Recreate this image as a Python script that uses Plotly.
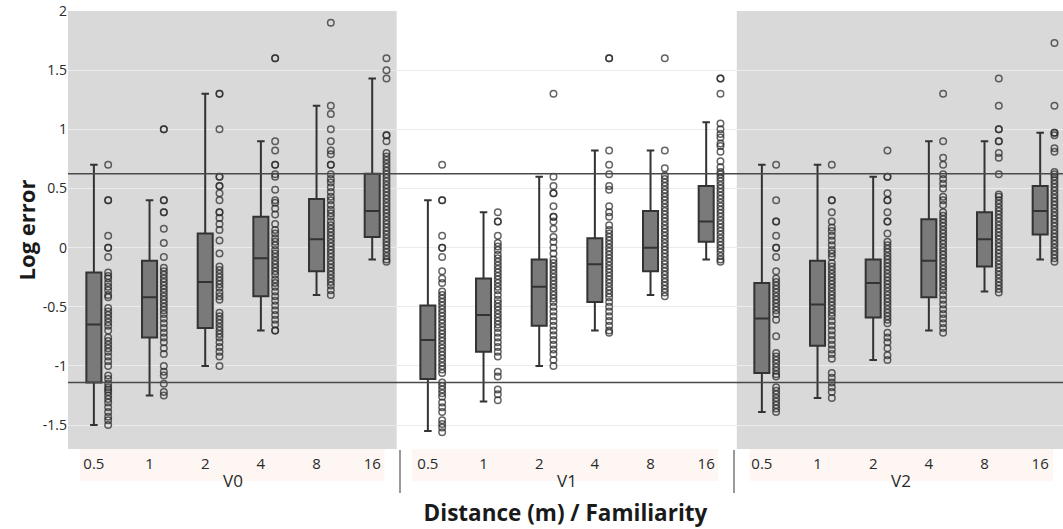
import plotly.graph_objects as go

# ---- categories / tick labels ----
familiarity = ["V0", "V1", "V2"]
distances = ["0.5", "1", "2", "4", "8", "16"]
y_tickvals = [-1.5, -1, -0.5, 0, 0.5, 1, 1.5, 2]
y_ticktext = ["-1.5", "-1", "-0.5", "0", "0.5", "1", "1.5", "2"]

# ---- box statistics per familiarity (order of distances) ----
q1_V0 = [-1.14, -0.76, -0.68, -0.41, -0.20, 0.09]
med_V0 = [-0.65, -0.42, -0.29, -0.09, 0.07, 0.31]
q3_V0 = [-0.21, -0.11, 0.12, 0.26, 0.41, 0.625]
lf_V0 = [-1.50, -1.25, -1.00, -0.70, -0.40, -0.10]
uf_V0 = [0.70, 0.40, 1.30, 0.90, 1.20, 1.43]

q1_V1 = [-1.11, -0.88, -0.66, -0.46, -0.20, 0.05]
med_V1 = [-0.78, -0.57, -0.33, -0.14, 0.00, 0.22]
q3_V1 = [-0.49, -0.26, -0.10, 0.08, 0.31, 0.52]
lf_V1 = [-1.55, -1.30, -1.00, -0.70, -0.40, -0.10]
uf_V1 = [0.40, 0.30, 0.60, 0.82, 0.82, 1.06]

q1_V2 = [-1.06, -0.83, -0.59, -0.42, -0.16, 0.11]
med_V2 = [-0.60, -0.48, -0.30, -0.11, 0.07, 0.31]
q3_V2 = [-0.30, -0.11, -0.10, 0.24, 0.30, 0.52]
lf_V2 = [-1.39, -1.27, -0.95, -0.70, -0.37, -0.10]
uf_V2 = [0.70, 0.70, 0.60, 0.90, 0.90, 0.97]

# ---- individual observations (log error) ----
pts_V0 = [
    [0.70, 0.40, 0.40, 0.10, 0.00, 0.00, -0.08, -0.21, -0.24, -0.26, -0.30, -0.33, -0.36, -0.40, -0.42,
     -0.51, -0.54, -0.57, -0.60, -0.63, -0.66, -0.70, -0.76, -0.79, -0.82, -0.85, -0.88, -0.92, -0.96,
     -1.00, -1.08, -1.11, -1.15, -1.18, -1.20, -1.22, -1.25, -1.28, -1.31, -1.35, -1.39, -1.43, -1.46, -1.50],
    [1.00, 1.00, 0.40, 0.40, 0.30, 0.30, 0.16, 0.04, -0.08, -0.17, -0.20, -0.23, -0.26, -0.29, -0.32,
     -0.35, -0.38, -0.41, -0.44, -0.47, -0.50, -0.53, -0.56, -0.60, -0.64, -0.68, -0.72, -0.76, -0.80,
     -0.85, -0.90, -1.00, -1.05, -1.08, -1.15, -1.22, -1.25],
    [1.30, 1.30, 1.00, 0.60, 0.60, 0.52, 0.52, 0.46, 0.40, 0.30, 0.30, 0.25, 0.20, 0.15, 0.06, -0.05,
     -0.16, -0.19, -0.22, -0.25, -0.28, -0.31, -0.34, -0.38, -0.41, -0.44, -0.55, -0.58, -0.61, -0.64,
     -0.67, -0.70, -0.73, -0.76, -0.80, -0.84, -0.88, -0.92, -1.00],
    [1.60, 1.60, 0.90, 0.82, 0.70, 0.70, 0.62, 0.60, 0.49, 0.40, 0.38, 0.33, 0.28, 0.20, 0.15, 0.12,
     0.08, 0.05, 0.02, -0.02, -0.05, -0.08, -0.11, -0.14, -0.17, -0.20, -0.23, -0.27, -0.30, -0.33,
     -0.37, -0.41, -0.45, -0.49, -0.53, -0.57, -0.61, -0.65, -0.70, -0.70],
    [1.90, 1.20, 1.13, 1.00, 0.90, 0.82, 0.79, 0.70, 0.70, 0.62, 0.58, 0.55, 0.51, 0.47, 0.43, 0.40,
     0.36, 0.32, 0.29, 0.26, 0.22, 0.19, 0.16, 0.13, 0.10, 0.07, 0.04, 0.01, -0.02, -0.05, -0.08,
     -0.11, -0.14, -0.17, -0.20, -0.23, -0.26, -0.29, -0.32, -0.36, -0.40],
    [1.60, 1.50, 1.43, 0.95, 0.95, 0.90, 0.80, 0.77, 0.74, 0.71, 0.68, 0.65, 0.62, 0.59, 0.56, 0.53,
     0.50, 0.47, 0.44, 0.41, 0.38, 0.35, 0.32, 0.29, 0.26, 0.23, 0.20, 0.17, 0.14, 0.11, 0.08, 0.05,
     0.02, -0.01, -0.04, -0.07, -0.10, -0.12],
]
pts_V1 = [
    [0.70, 0.40, 0.40, 0.10, 0.00, 0.00, -0.08, -0.20, -0.26, -0.30, -0.37, -0.40, -0.43, -0.46, -0.49,
     -0.52, -0.55, -0.58, -0.61, -0.64, -0.67, -0.70, -0.73, -0.76, -0.79, -0.82, -0.85, -0.88, -0.91,
     -0.94, -0.97, -1.00, -1.03, -1.06, -1.14, -1.17, -1.20, -1.23, -1.26, -1.31, -1.35, -1.39, -1.46,
     -1.49, -1.52, -1.56],
    [0.30, 0.22, 0.22, 0.10, 0.04, 0.01, -0.02, -0.06, -0.09, -0.12, -0.15, -0.18, -0.21, -0.24, -0.27,
     -0.30, -0.33, -0.36, -0.40, -0.44, -0.47, -0.50, -0.53, -0.56, -0.59, -0.62, -0.65, -0.68, -0.72,
     -0.76, -0.80, -0.84, -0.88, -0.92, -1.05, -1.09, -1.20, -1.24, -1.29],
    [1.30, 0.60, 0.52, 0.46, 0.46, 0.35, 0.26, 0.26, 0.22, 0.16, 0.09, 0.05, 0.00, -0.05, -0.10, -0.13,
     -0.16, -0.19, -0.22, -0.25, -0.28, -0.31, -0.34, -0.37, -0.40, -0.43, -0.46, -0.50, -0.54, -0.58,
     -0.62, -0.66, -0.70, -0.74, -0.78, -0.82, -0.86, -0.90, -0.95, -1.00],
    [1.60, 1.60, 0.82, 0.70, 0.62, 0.52, 0.49, 0.35, 0.30, 0.26, 0.19, 0.15, 0.12, 0.09, 0.06, 0.03,
     0.00, -0.03, -0.06, -0.09, -0.12, -0.15, -0.18, -0.21, -0.24, -0.27, -0.30, -0.33, -0.36, -0.39,
     -0.42, -0.46, -0.50, -0.54, -0.58, -0.62, -0.66, -0.70, -0.72],
    [1.60, 0.82, 0.67, 0.61, 0.58, 0.55, 0.52, 0.49, 0.46, 0.43, 0.40, 0.37, 0.34, 0.31, 0.28, 0.25,
     0.22, 0.19, 0.16, 0.13, 0.10, 0.07, 0.04, 0.01, -0.02, -0.05, -0.08, -0.11, -0.14, -0.17, -0.20,
     -0.23, -0.26, -0.29, -0.32, -0.35, -0.38, -0.41],
    [1.43, 1.43, 1.30, 1.05, 1.00, 0.96, 0.93, 0.88, 0.86, 0.81, 0.73, 0.68, 0.64, 0.62, 0.59, 0.56,
     0.53, 0.50, 0.47, 0.44, 0.41, 0.38, 0.35, 0.32, 0.29, 0.26, 0.23, 0.20, 0.17, 0.14, 0.11, 0.08,
     0.05, 0.02, -0.01, -0.04, -0.07, -0.10, -0.12],
]
pts_V2 = [
    [0.70, 0.40, 0.22, 0.22, 0.10, 0.00, 0.00, -0.08, -0.20, -0.26, -0.29, -0.32, -0.35, -0.38, -0.41,
     -0.44, -0.47, -0.50, -0.53, -0.56, -0.61, -0.75, -0.89, -0.92, -0.95, -0.98, -1.01, -1.04, -1.07,
     -1.09, -1.18, -1.21, -1.24, -1.27, -1.30, -1.33, -1.36, -1.39],
    [0.70, 0.40, 0.40, 0.30, 0.22, 0.17, 0.14, 0.10, 0.06, 0.02, -0.02, -0.05, -0.08, -0.13, -0.16,
     -0.19, -0.22, -0.25, -0.28, -0.31, -0.34, -0.37, -0.40, -0.43, -0.46, -0.49, -0.52, -0.55, -0.58,
     -0.62, -0.66, -0.70, -0.74, -0.78, -0.82, -0.86, -0.90, -0.94, -1.06, -1.10, -1.14, -1.18, -1.22,
     -1.27],
    [0.82, 0.60, 0.60, 0.46, 0.40, 0.40, 0.30, 0.22, 0.22, 0.12, 0.05, 0.02, -0.01, -0.04, -0.07, -0.10,
     -0.13, -0.16, -0.19, -0.22, -0.25, -0.28, -0.31, -0.34, -0.37, -0.40, -0.43, -0.46, -0.49, -0.52,
     -0.55, -0.58, -0.61, -0.64, -0.72, -0.76, -0.80, -0.85, -0.91, -0.95],
    [1.30, 0.90, 0.76, 0.70, 0.62, 0.58, 0.54, 0.50, 0.43, 0.40, 0.36, 0.30, 0.27, 0.24, 0.21, 0.18,
     0.15, 0.12, 0.09, 0.06, 0.03, 0.00, -0.03, -0.06, -0.09, -0.12, -0.15, -0.18, -0.21, -0.24, -0.27,
     -0.30, -0.33, -0.36, -0.40, -0.44, -0.48, -0.52, -0.56, -0.60, -0.64, -0.68, -0.72],
    [1.43, 1.20, 1.00, 1.00, 0.90, 0.90, 0.80, 0.76, 0.62, 0.45, 0.43, 0.40, 0.37, 0.34, 0.31, 0.28,
     0.25, 0.22, 0.19, 0.16, 0.13, 0.10, 0.07, 0.04, 0.01, -0.02, -0.05, -0.08, -0.11, -0.14, -0.17,
     -0.20, -0.23, -0.26, -0.29, -0.32, -0.35, -0.38],
    [1.73, 1.20, 0.97, 0.97, 0.95, 0.84, 0.81, 0.64, 0.62, 0.60, 0.57, 0.54, 0.51, 0.48, 0.45, 0.42,
     0.39, 0.36, 0.33, 0.30, 0.27, 0.24, 0.21, 0.18, 0.15, 0.12, 0.09, 0.06, 0.03, 0.00, -0.03, -0.06,
     -0.09, -0.12],
]

# reference lines (log error)
ref_upper = 0.625
ref_lower = -1.14

groups = [
    (familiarity[0], pts_V0, q1_V0, med_V0, q3_V0, lf_V0, uf_V0),
    (familiarity[1], pts_V1, q1_V1, med_V1, q3_V1, lf_V1, uf_V1),
    (familiarity[2], pts_V2, q1_V2, med_V2, q3_V2, lf_V2, uf_V2),
]

fig = go.Figure()
for fam, pts, q1, med, q3, lf, uf in groups:
    fam_label = '<span style="font-size:17px">%s</span>' % fam
    fig.add_trace(go.Box(
        x=[[fam_label] * len(distances), distances],
        y=pts,
        q1=q1, median=med, q3=q3, lowerfence=lf, upperfence=uf,
        boxpoints="all", jitter=0, pointpos=1.9,
        width=0.27, whiskerwidth=0.5,
        fillcolor="#7a7a7a",
        line=dict(color="#333333", width=2),
        marker=dict(symbol="circle-open", size=6.5, color="rgba(40,40,40,0.72)",
                    line=dict(width=1.5)),
        showlegend=False, hoverinfo="skip",
    ))

font_family = "Open Sans, sans-serif"
shapes = [
    # grey backgrounds for V0 and V2
    dict(type="rect", xref="x", yref="paper", x0=-0.5, x1=5.44, y0=0, y1=1,
         fillcolor="#d9d9d9", line=dict(width=0), layer="below"),
    dict(type="rect", xref="x", yref="paper", x0=11.55, x1=17.6, y0=0, y1=1,
         fillcolor="#d9d9d9", line=dict(width=0), layer="below"),
    # faint bands behind tick labels
    dict(type="rect", xref="paper", yref="paper", x0=0.012, x1=0.318, y0=-0.073, y1=0,
         fillcolor="#fdf6f3", line=dict(width=0), layer="below"),
    dict(type="rect", xref="paper", yref="paper", x0=0.346, x1=0.653, y0=-0.073, y1=0,
         fillcolor="#fdf6f3", line=dict(width=0), layer="below"),
    dict(type="rect", xref="paper", yref="paper", x0=0.685, x1=0.99, y0=-0.073, y1=0,
         fillcolor="#fdf6f3", line=dict(width=0), layer="below"),
    # horizontal reference lines
    dict(type="line", xref="paper", yref="y", x0=0, x1=1, y0=ref_upper, y1=ref_upper,
         line=dict(color="#4a4a4a", width=1.6), layer="above"),
    dict(type="line", xref="paper", yref="y", x0=0, x1=1, y0=ref_lower, y1=ref_lower,
         line=dict(color="#4a4a4a", width=1.3), layer="above"),
]

fig.update_layout(
    template="none",
    width=1063, height=529,
    margin=dict(l=68, r=0, t=11, b=80, autoexpand=False),
    paper_bgcolor="white", plot_bgcolor="white",
    font=dict(family=font_family, size=14, color="#333333"),
    showlegend=False,
    shapes=shapes,
    xaxis=dict(
        type="multicategory",
        range=[-0.465, 17.41],
        showgrid=False, zeroline=False, showline=False, ticks="",
        showdividers=True, dividercolor="#9a9a9a", dividerwidth=1.5,
        tickfont=dict(size=15, color="#2a2a2a"),
        ticklabelstandoff=4,
        title=dict(text="Distance (m) / Familiarity",
                   font=dict(size=22.5, color="#1a1a1a", weight="bold"), standoff=14),
        automargin=False,
    ),
    yaxis=dict(
        range=[-1.702, 2],
        tickvals=y_tickvals, ticktext=y_ticktext,
        showgrid=True, gridcolor="#ebebeb", gridwidth=1,
        zeroline=False, showline=False, ticks="",
        tickfont=dict(size=14, color="#2a2a2a"),
        title=dict(text="Log error", font=dict(size=22, color="#1a1a1a", weight="bold"),
                   standoff=1),
        automargin=False,
    ),
)

fig.write_html("out.html")
